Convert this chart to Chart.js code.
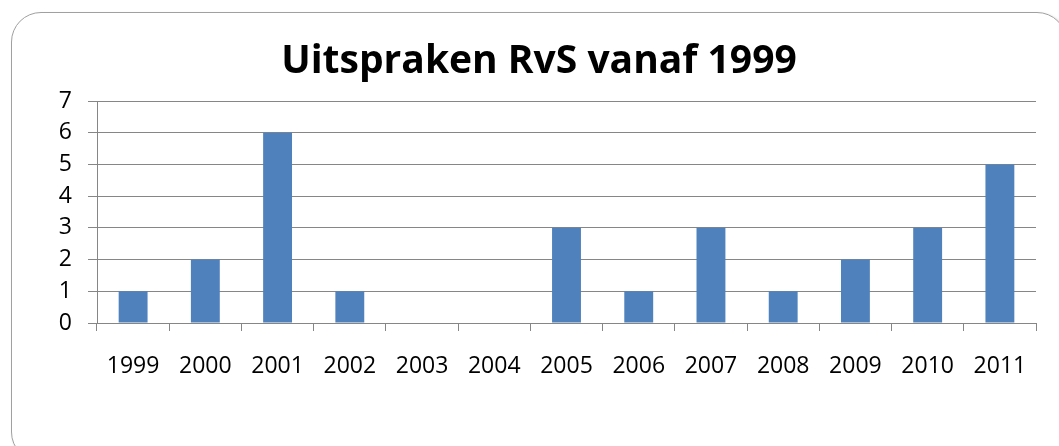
<!DOCTYPE html>
<html lang="nl">
<head>
    <meta charset="UTF-8">
    <title>Uitspraken RvS vanaf 1999</title>
    <script src="https://cdn.jsdelivr.net/npm/chart.js"></script>
    <style>
        html, body { margin: 0; padding: 0; background: #fff; overflow: hidden; }
        .wrap { position: relative; width: 1059px; height: 446px; }
        .frame {
            position: absolute; left: 11px; top: 12px; width: 1054px; height: 448px;
            border: 1.5px solid #a0a0a0; border-radius: 30px;
            box-shadow: 2px 2px 3px rgba(0,0,0,0.25);
        }
        canvas { position: absolute; left: 0; top: 0; }
    </style>
</head>
<body>
<div class="wrap">
    <div class="frame"></div>
    <canvas id="chart" width="1059" height="446"></canvas>
</div>
<script>
    const years = ['1999', '2000', '2001', '2002', '2003', '2004', '2005', '2006', '2007', '2008', '2009', '2010', '2011'];
    const uitspraken = [1, 2, 6, 1, 0, 0, 3, 1, 3, 1, 2, 3, 5];
    const yTicks = [0, 1, 2, 3, 4, 5, 6, 7];
    const titleText = 'Uitspraken RvS vanaf 1999';

    const gridColor = '#868686';
    const font = "'Open Sans', 'DejaVu Sans', sans-serif";

    // title centred on the whole frame, not on the plot
    const frameTitle = {
        id: 'frameTitle',
        afterDraw(chart) {
            const ctx = chart.ctx;
            ctx.save();
            ctx.font = 'bold 39px ' + font;
            ctx.fillStyle = '#000';
            ctx.textAlign = 'center';
            ctx.textBaseline = 'middle';
            ctx.fillText(titleText, 539, 62);
            ctx.restore();
        }
    };

    new Chart(document.getElementById('chart'), {
        type: 'bar',
        data: {
            labels: years,
            datasets: [{
                label: 'Uitspraken',
                data: uitspraken,
                backgroundColor: '#4F81BD',
                barPercentage: 0.4,
                categoryPercentage: 1
            }]
        },
        options: {
            responsive: false,
            animation: false,
            layout: { padding: { left: 0, right: 23, top: 101, bottom: 0 } },
            plugins: {
                legend: { display: false },
                tooltip: { enabled: false },
                title: { display: false }
            },
            scales: {
                x: {
                    grid: { drawOnChartArea: false, drawTicks: true, tickLength: 8, color: gridColor, offset: true },
                    border: { color: gridColor, width: 1 },
                    ticks: { color: '#000', font: { family: font, size: 23 }, padding: 22, maxRotation: 0 },
                    afterFit: s => { s.height = 123; }
                },
                y: {
                    min: 0,
                    max: 7,
                    afterBuildTicks: s => { s.ticks = yTicks.map(v => ({ value: v })); },
                    grid: { color: gridColor, tickLength: 9 },
                    border: { color: gridColor, width: 1 },
                    ticks: { color: '#000', font: { family: font, size: 23 }, padding: 16 },
                    afterFit: s => { s.width = 97; }
                }
            }
        },
        plugins: [frameTitle]
    });
</script>
</body>
</html>
